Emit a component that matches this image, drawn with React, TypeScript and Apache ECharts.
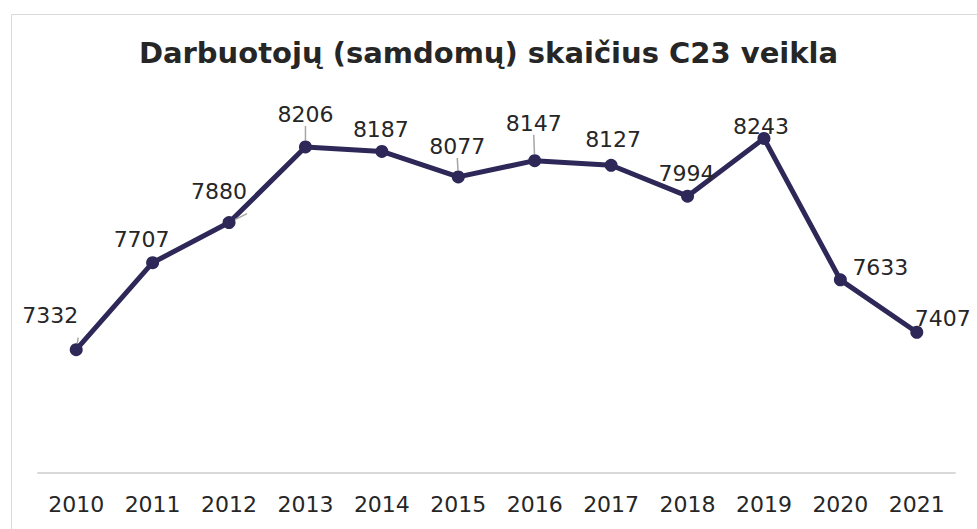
import React, { useEffect, useRef } from "react";
import * as echarts from "echarts";

const titleText = "Darbuotojų (samdomų) skaičius C23 veikla";
const years = ["2010", "2011", "2012", "2013", "2014", "2015", "2016", "2017", "2018", "2019", "2020", "2021"];
const employees = [7332, 7707, 7880, 8206, 8187, 8077, 8147, 8127, 7994, 8243, 7633, 7407];
const labelOffsets: [number, number][] = [
  [-26, -34], [-11, -23], [-10, -31], [0, -32], [-1, -22], [-1, -30],
  [-1, -37], [2, -26], [-1, -23], [-3, -12], [40, -12], [26, -14],
];
const showLeader = [true, false, true, true, false, true, true, false, false, false, false, false];

export default function App() {
  const ref = useRef<HTMLDivElement>(null);
  useEffect(() => {
    if (!ref.current) return;
    const chart = echarts.init(ref.current, null, { renderer: "svg" });
    chart.setOption({
      animation: false,
      backgroundColor: "#ffffff",
      textStyle: { fontFamily: "DejaVu Sans" },
      title: {
        text: titleText,
        left: "center",
        top: 33,
        textStyle: { fontSize: 29, fontWeight: "bold", color: "#262626", fontFamily: "DejaVu Sans" },
      },
      graphic: [
        {
          type: "rect",
          left: 9,
          top: 12,
          shape: { width: 1200, height: 800 },
          style: { fill: "none", stroke: "#d9d9d9", lineWidth: 1 },
          silent: true,
        },
      ],
      grid: { left: 38, right: 22, top: 102, bottom: 56, containLabel: false },
      xAxis: {
        type: "category",
        data: years,
        boundaryGap: true,
        axisLine: { show: true, lineStyle: { color: "#d9d9d9", width: 2 } },
        axisTick: { show: false },
        axisLabel: { color: "#262626", fontSize: 22, margin: 20, fontFamily: "DejaVu Sans" },
        splitLine: { show: false },
      },
      yAxis: {
        type: "value",
        min: 6800,
        max: 8400,
        interval: 200,
        show: false,
        splitLine: { show: false },
      },
      series: [
        {
          type: "line",
          data: employees.map((v, i) => ({
            value: v,
            label: { offset: labelOffsets[i] },
            labelLine: { show: showLeader[i] },
          })),
          lineStyle: { color: "#2e2858", width: 5 },
          itemStyle: { color: "#2e2858" },
          symbol: "circle",
          symbolSize: 13,
          label: {
            show: true,
            position: "inside",
            color: "#262626",
            fontSize: 22,
            fontFamily: "DejaVu Sans",
          },
          labelLine: { show: true, lineStyle: { color: "#a6a6a6", width: 1.5 } },
        },
      ],
    });
    return () => chart.dispose();
  }, []);
  return (
    <div
      ref={ref}
      style={{ position: "fixed", left: 0, top: 0, width: 977, height: 529 }}
    />
  );
}
